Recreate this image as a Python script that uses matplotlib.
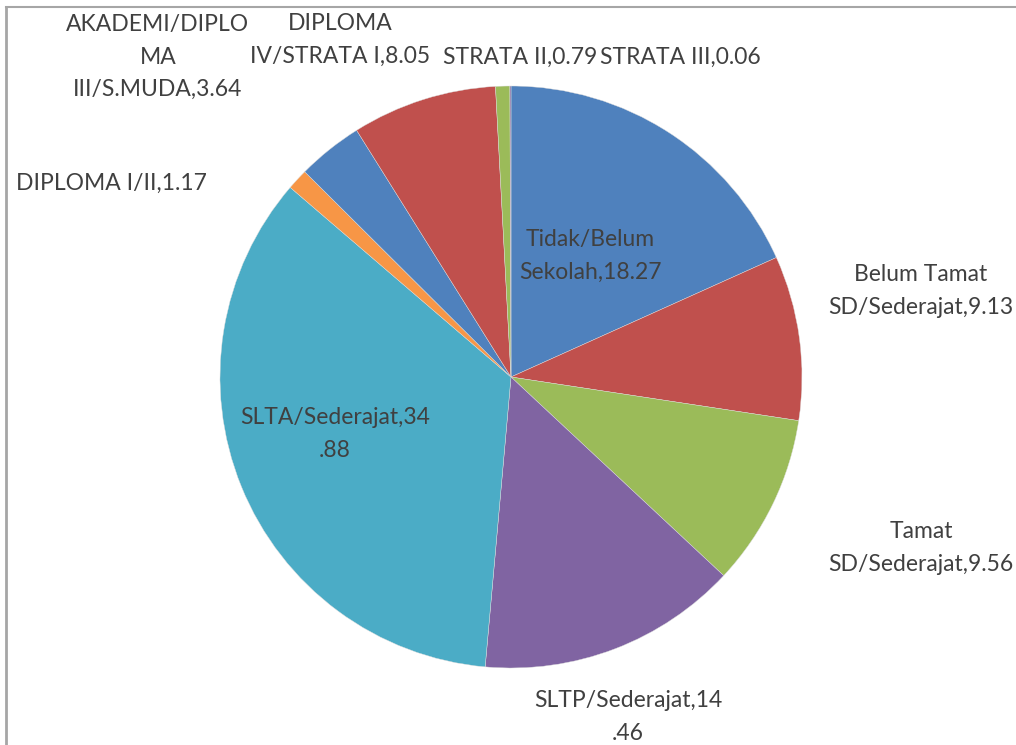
import matplotlib
matplotlib.use("Agg")
import matplotlib.pyplot as plt

# Data: education level distribution (percent)
categories = ["Tidak/Belum Sekolah", "Belum Tamat SD/Sederajat", "Tamat SD/Sederajat",
              "SLTP/Sederajat", "SLTA/Sederajat", "DIPLOMA I/II",
              "AKADEMI/DIPLOMA III/S.MUDA", "DIPLOMA IV/STRATA I", "STRATA II", "STRATA III"]
values = [18.27, 9.13, 9.56, 14.46, 34.88, 1.17, 3.64, 8.05, 0.79, 0.06]
labels = ["Tidak/Belum\nSekolah,18.27", "Belum Tamat\nSD/Sederajat,9.13",
          "Tamat\nSD/Sederajat,9.56", "SLTP/Sederajat,14\n.46",
          "SLTA/Sederajat,34\n.88", "DIPLOMA I/II,1.17",
          "AKADEMI/DIPLO\nMA\nIII/S.MUDA,3.64", "DIPLOMA\nIV/STRATA I,8.05",
          "STRATA II,0.79", "STRATA III,0.06"]

colors = ["#4F81BD", "#C0504D", "#9BBB59", "#8064A2", "#4BACC6", "#F79646"]
colors = [colors[i % len(colors)] for i in range(len(values))]

W, H = 1016, 745
fig = plt.figure(figsize=(W / 100, H / 100), dpi=100)
ax = fig.add_axes([0, 0, 1, 1])

cx, cy, r = 511, H - 377, 291
ax.pie(values, colors=colors, startangle=90, counterclock=False,
       center=(cx, cy), radius=r, frame=True,
       wedgeprops=dict(linewidth=0.3, edgecolor="#dddddd"))
ax.set_xlim(0, W)
ax.set_ylim(0, H)
ax.set_aspect("equal")
ax.axis("off")

# label positions (pixel coords, top-left origin)
label_pos = [(590, 256), (921, 291), (921, 548), (628, 717), (335, 434),
             (111, 183), (158, 57), (340, 40), (520, 57), (680, 57)]
for lab, (px, py) in zip(labels, label_pos):
    ax.text(px, H - py, lab, ha="center", va="center", fontsize=16.5,
            family="Lato", color="#404040", linespacing=1.65)

# chart frame (partially cropped)
ax.plot([6, 6], [0, H - 7], color="#a6a6a6", lw=2, clip_on=False)
ax.plot([6, W], [H - 7, H - 7], color="#a6a6a6", lw=1.5, clip_on=False)

fig.savefig("out.png", dpi=100)
